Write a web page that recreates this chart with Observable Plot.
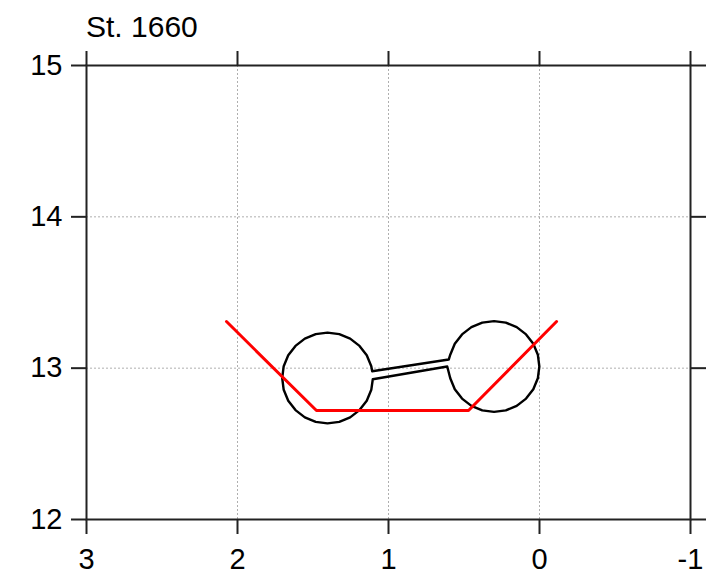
<!DOCTYPE html>
<html>
<head>
<meta charset="utf-8">
<script src="https://cdn.jsdelivr.net/npm/d3@7"></script>
<script src="https://cdn.jsdelivr.net/npm/@observablehq/plot@0.6"></script>
<style>
  body { margin: 0; background: #fff; }
  #chart { position: relative; width: 706px; height: 576px; }
  #title { position: absolute; left: 86px; top: 12px; font: 30px "Liberation Sans", Arial, Helvetica, sans-serif; color: #000; line-height: 1; }
  #chart svg text { font-size: 29px; }
</style>
</head>
<body>
<div id="chart"><div id="title">St. 1660</div></div>
<script>
const title = "St. 1660";
const xTicks = [3, 2, 1, 0, -1];
const yTicks = [12, 13, 14, 15];

// Red polyline
const redX = [2.073, 1.477, 0.470, -0.113];
const redY = [13.308, 12.720, 12.720, 13.308];

// Black outline: two circles joined by a narrow pipe
const outlineX = [
  1.108, 1.114, 1.144, 1.192, 1.254, 1.326, 1.404, 1.482, 1.554, 1.616, 1.664, 1.694, 1.704,
  1.694, 1.664, 1.616, 1.554, 1.482, 1.404, 1.326, 1.254, 1.192, 1.144, 1.114, 1.104,
  0.611, 0.591, 0.561, 0.513, 0.451, 0.379, 0.301, 0.223, 0.151, 0.089, 0.041, 0.011, 0.001,
  0.011, 0.041, 0.089, 0.151, 0.223, 0.301, 0.379, 0.451, 0.513, 0.561, 0.591, 0.601,
  1.108
];
const outlineY = [
  12.980, 13.013, 13.085, 13.147, 13.195, 13.225, 13.235, 13.225, 13.195, 13.147, 13.085, 13.013, 12.935,
  12.857, 12.785, 12.723, 12.675, 12.645, 12.635, 12.645, 12.675, 12.723, 12.785, 12.857, 12.927,
  13.011, 12.933, 12.861, 12.799, 12.751, 12.721, 12.711, 12.721, 12.751, 12.799, 12.861, 12.933, 13.011,
  13.089, 13.161, 13.223, 13.271, 13.301, 13.311, 13.301, 13.271, 13.223, 13.161, 13.089, 13.057,
  12.980
];

document.getElementById("title").textContent = title;

const red = redX.map((x, i) => ({x, y: redY[i]}));
const outline = outlineX.map((x, i) => ({x, y: outlineY[i]}));

const font = '"Liberation Sans", Arial, Helvetica, sans-serif';
const fmt = d => String(d);

const plot = Plot.plot({
  width: 706,
  height: 576,
  marginLeft: 86,
  marginRight: 16,
  marginTop: 65,
  marginBottom: 57,
  style: {fontFamily: font, fontSize: "29px", background: "white", color: "black"},
  x: {domain: [3, -1], ticks: xTicks},
  y: {domain: [12, 15], ticks: yTicks},
  marks: [
    Plot.gridX(xTicks, {stroke: "#9a9a9a", strokeOpacity: 1, strokeWidth: 0.8, strokeDasharray: "2,2"}),
    Plot.gridY(yTicks, {stroke: "#9a9a9a", strokeOpacity: 1, strokeWidth: 0.8, strokeDasharray: "2,2"}),
    Plot.line(outline, {x: "x", y: "y", stroke: "black", strokeWidth: 2.4}),
    Plot.line(red, {x: "x", y: "y", stroke: "#ff0000", strokeWidth: 3}),
    Plot.frame({stroke: "#222", strokeWidth: 2}),
    Plot.axisX(xTicks, {anchor: "bottom", tickSize: 15, tickPadding: 14, fontSize: 29, tickFormat: fmt, label: null, strokeWidth: 2, stroke: "#222"}),
    Plot.axisX(xTicks, {anchor: "top", tickSize: 15, tickFormat: () => "", label: null, strokeWidth: 2, stroke: "#222"}),
    Plot.axisY(yTicks, {anchor: "left", tickSize: 15, tickPadding: 9, fontSize: 29, tickFormat: fmt, label: null, strokeWidth: 2, stroke: "#222"}),
    Plot.axisY(yTicks, {anchor: "right", tickSize: 15, tickFormat: () => "", label: null, strokeWidth: 2, stroke: "#222"})
  ]
});
document.getElementById("chart").appendChild(plot);
</script>
</body>
</html>
